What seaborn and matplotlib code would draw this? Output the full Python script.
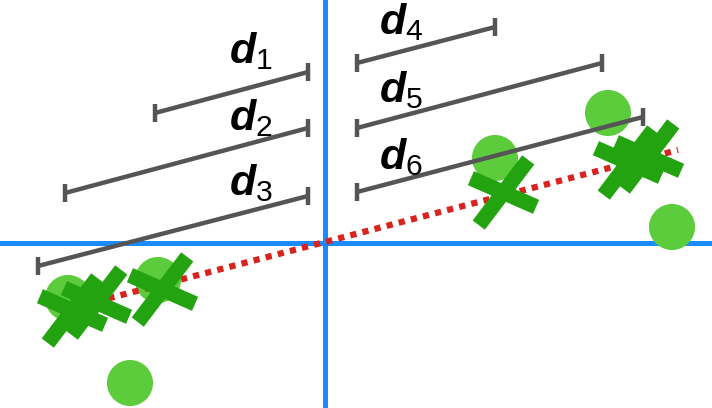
import matplotlib
matplotlib.use("Agg")
import matplotlib.pyplot as plt
from matplotlib.path import Path
import seaborn as sns

sns.set_style("white")
plt.rcParams["mathtext.fontset"] = "custom"
plt.rcParams["mathtext.it"] = "Liberation Sans:italic:bold"
plt.rcParams["mathtext.rm"] = "Liberation Sans"

# ── 데이터 (픽셀 좌표, y는 아래로 증가) ─────────────────────────────
circle_x = [68, 158, 130, 495, 608, 672]
circle_y = [298, 280, 383, 158, 113, 227]

cross_x = [72, 96, 162, 503, 628, 648]
cross_y = [310, 302, 289, 192, 162, 156]

red_x = [60, 678]
red_y = [311, 150]

bar_x0 = [155, 65, 38, 357, 357, 357]
bar_y0 = [113, 193, 266, 63, 128, 192]
bar_x1 = [308, 308, 308, 495, 602, 643]
bar_y1 = [72, 128, 196, 27, 63, 117]

labels = ["1", "2", "3", "4", "5", "6"]
label_x = [229, 229, 229, 379, 379, 379]
label_y = [63, 130, 195, 34, 102, 169]

AXIS_X = 325
AXIS_Y = 243

BLUE = "#1a8cff"
LIGHT_GREEN = "#5ccb3c"
DARK_GREEN = "#22a30f"
RED = "#d8231f"
GRAY = "#555555"

# 손그림 느낌의 비스듬한 X 마커
skew_x = Path([(-0.38, -0.5), (0.38, 0.5), (-0.5, 0.22), (0.5, -0.22)],
              [Path.MOVETO, Path.LINETO, Path.MOVETO, Path.LINETO])

fig = plt.figure(figsize=(7.12, 4.08), dpi=100)
ax = fig.add_axes([0, 0, 1, 1])
ax.set_xlim(0, 712)
ax.set_ylim(408, 0)
ax.axis("off")

# 축선
ax.axvline(AXIS_X, color=BLUE, linewidth=3.6, zorder=1)
ax.axhline(AXIS_Y, color=BLUE, linewidth=3.6, zorder=1)

# 원래 점
sns.scatterplot(x=circle_x, y=circle_y, s=1100, color=LIGHT_GREEN,
                edgecolor="none", ax=ax, zorder=2)

# 주성분 선
ax.plot(red_x, red_y, color=RED, linewidth=4.5, linestyle=(0, (1, 1)),
        dash_capstyle="butt", zorder=3)

# 투영된 점
sns.scatterplot(x=cross_x, y=cross_y, s=2200, marker=skew_x,
                color=DARK_GREEN, edgecolor=DARK_GREEN, linewidth=11,
                ax=ax, zorder=4)

# 거리 막대
for x0, y0, x1, y1 in zip(bar_x0, bar_y0, bar_x1, bar_y1):
    ax.plot([x0, x1], [y0, y1], color=GRAY, linewidth=3.2,
            solid_capstyle="butt", zorder=5)
    for xe, ye in [(x0, y0), (x1, y1)]:
        ax.plot([xe, xe], [ye - 9, ye + 9], color=GRAY, linewidth=3.2,
                solid_capstyle="butt", zorder=5)

# 라벨
for lab, lx, ly in zip(labels, label_x, label_y):
    ax.text(lx, ly, rf"$d_{{{lab}}}$", fontsize=31, color="black",
            ha="left", va="baseline", zorder=6)

fig.savefig("out.png", dpi=100)
